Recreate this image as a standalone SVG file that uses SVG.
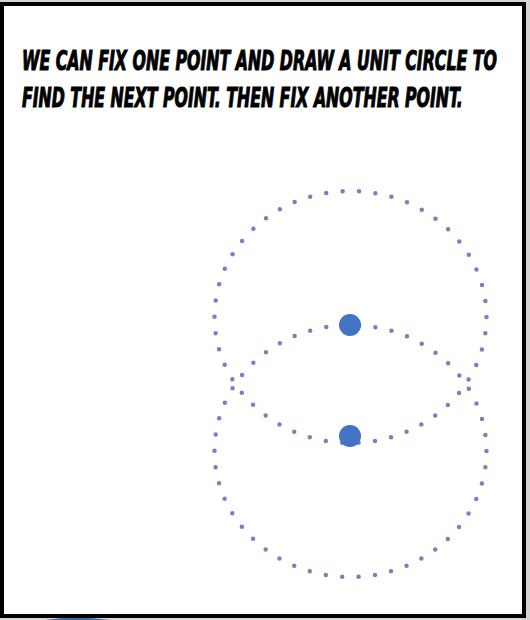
<svg xmlns="http://www.w3.org/2000/svg" width="530" height="620" viewBox="0 0 530 620">
  <style>
    .cap { font-family: "DejaVu Sans Condensed", "DejaVu Sans", sans-serif; font-weight: bold; font-style: italic; font-size: 26px; fill: #000; stroke: #000; stroke-width: 1; }
    .orbit { fill: none; stroke: #5171b5; stroke-width: 4.5; stroke-linecap: round; stroke-dasharray: 0 16.47; opacity: 0.85; }
    .pt { fill: #4472c4; }
  </style>
  <rect x="0" y="0" width="530" height="620" fill="#d6d6d6"/>
  <path d="M45 620 Q75 615 110 620 Z" fill="#2f6db0"/>
  <rect id="panel" x="2" y="4" width="522" height="612" fill="#ffffff" stroke="#000000" stroke-width="4"/>
  <g id="caption" transform="scale(0.67,1)">
    <text class="cap" x="32.8" y="70" textLength="709" lengthAdjust="spacingAndGlyphs">WE CAN FIX ONE POINT AND DRAW A UNIT CIRCLE TO</text>
    <text class="cap" x="32.8" y="107" textLength="658" lengthAdjust="spacingAndGlyphs">FIND THE NEXT POINT. THEN FIX ANOTHER POINT.</text>
  </g>
  <g id="connectors">
    <ellipse id="circle-upper" class="orbit" cx="350.5" cy="317" rx="136" ry="126"/>
    <ellipse id="circle-lower" class="orbit" cx="350.5" cy="451" rx="136" ry="126"/>
  </g>
  <g id="point-upper"><circle class="pt" cx="350" cy="325" r="11"/></g>
  <g id="point-lower"><circle class="pt" cx="350" cy="436" r="11"/></g>
</svg>
